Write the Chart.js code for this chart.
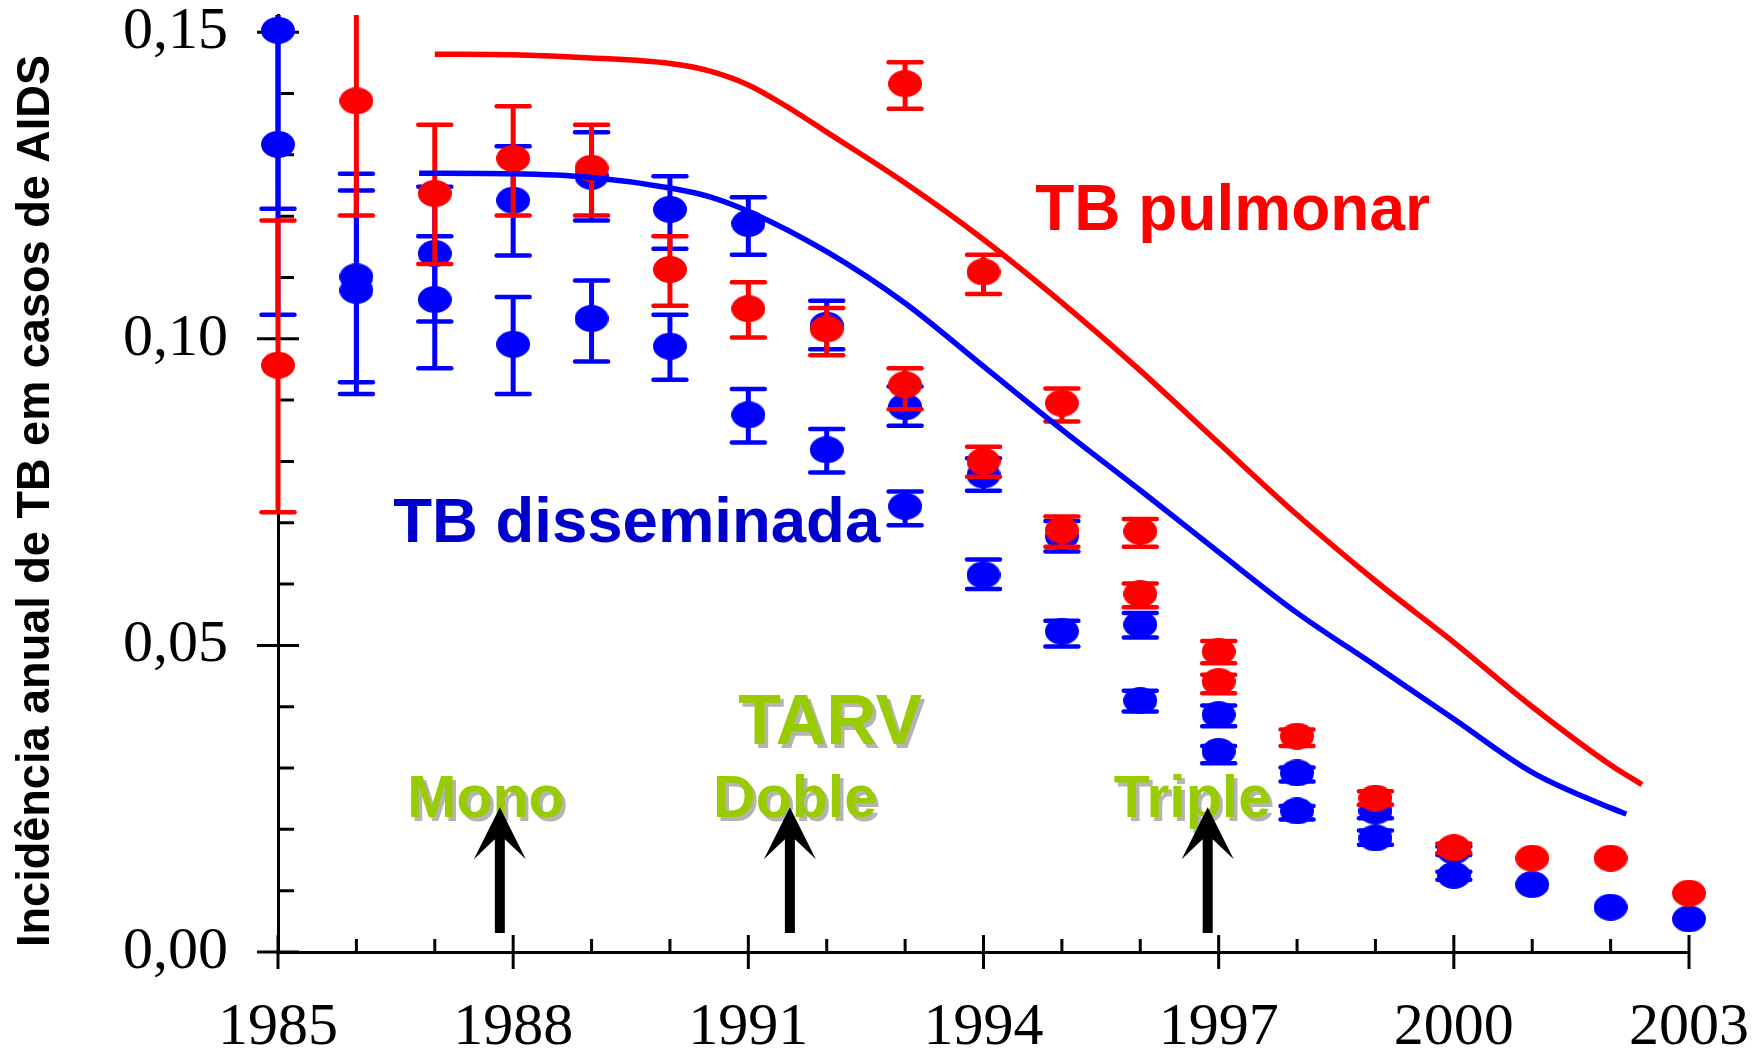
<!DOCTYPE html>
<html>
<head>
<meta charset="utf-8">
<script src="https://cdn.jsdelivr.net/npm/chart.js@4.4.1/dist/chart.umd.min.js"></script>
<style>
  html, body { margin: 0; padding: 0; background: #fff; }
</style>
</head>
<body>
<canvas id="chart" width="1762" height="1049"></canvas>
<script>
// years on the x axis
const years = [1985, 1986, 1987, 1988, 1989, 1990, 1991, 1992, 1993, 1994, 1995, 1996, 1997, 1998, 1999, 2000, 2001, 2002, 2003];

// TB pulmonar (red) - two groups of points with error bars
const redA     = [0.0957, 0.1388, 0.1237, 0.1294, 0.1278, 0.1113, 0.1049, 0.1016, 0.1416, 0.1109, 0.0895, 0.0686, 0.0490, 0.0352, 0.0251, 0.0170, 0.0153, 0.0153, 0.0096];
const redALow  = [0.0717, 0.1201, 0.1122, 0.1201, 0.1201, 0.1054, 0.1002, 0.0973, 0.1375, 0.1073, 0.0865, 0.0661, 0.0471, 0.0336, 0.0240, 0.0162, null, null, null];
const redAHigh = [0.1193, 0.1575, 0.1349, 0.1379, 0.1349, 0.1167, 0.1092, 0.1050, 0.1451, 0.1137, 0.0919, 0.0706, 0.0507, 0.0363, 0.0262, 0.0177, null, null, null];
const redB     = [null, null, null, null, null, null, null, null, 0.0925, 0.0800, 0.0688, 0.0584, 0.0441, null, null, null, null, null, null];
const redBLow  = [null, null, null, null, null, null, null, null, 0.0885, 0.0775, 0.0661, 0.0562, 0.0422, null, null, null, null, null, null];
const redBHigh = [null, null, null, null, null, null, null, null, 0.0952, 0.0824, 0.0710, 0.0601, 0.0452, null, null, null, null, null, null];

// TB disseminada (blue)
const blueA     = [0.1503, 0.1101, 0.1139, 0.1226, 0.1265, 0.1211, 0.1188, 0.1022, 0.0889, 0.0778, 0.0678, 0.0534, 0.0387, 0.0292, 0.0230, 0.0165, 0.0110, 0.0073, 0.0054];
const blueALow  = [0.1212, 0.0929, 0.1028, 0.1136, 0.1193, 0.1147, 0.1137, 0.0983, 0.0858, 0.0752, 0.0653, 0.0513, 0.0368, 0.0278, 0.0218, 0.0158, null, null, null];
const blueAHigh = [0.1790, 0.1269, 0.1248, 0.1314, 0.1337, 0.1265, 0.1231, 0.1062, 0.0922, 0.0805, 0.0703, 0.0553, 0.0402, 0.0301, 0.0240, 0.0172, null, null, null];
const blueB     = [0.1317, 0.1079, 0.1064, 0.0991, 0.1033, 0.0988, 0.0876, 0.0819, 0.0727, 0.0615, 0.0523, 0.0410, 0.0327, 0.0230, 0.0186, 0.0125, null, null, null];
const blueBLow  = [0.1039, 0.0910, 0.0952, 0.0910, 0.0963, 0.0933, 0.0831, 0.0782, 0.0696, 0.0592, 0.0498, 0.0392, 0.0308, 0.0216, 0.0175, 0.0118, null, null, null];
const blueBHigh = [0.1595, 0.1242, 0.1167, 0.1068, 0.1095, 0.1039, 0.0918, 0.0853, 0.0751, 0.0640, 0.0540, 0.0426, 0.0336, 0.0238, 0.0198, 0.0131, null, null, null];

// fitted curves
const redCurveX  = [1987, 1988, 1989, 1990, 1990.5, 1991, 1991.5, 1992, 1993, 1994, 1995, 1996, 1997, 1998, 1999, 2000, 2001, 2002, 2002.4];
const redCurveY  = [0.1464, 0.1463, 0.1458, 0.1449, 0.1437, 0.1414, 0.1378, 0.1337, 0.1254, 0.1162, 0.1059, 0.0948, 0.0830, 0.0713, 0.0605, 0.0505, 0.0400, 0.0305, 0.0273];
const blueCurveX = [1986.8, 1988, 1989, 1990, 1990.5, 1991, 1992, 1993, 1994, 1995, 1996, 1997, 1998, 1999, 2000, 2001, 2002, 2002.2];
const blueCurveY = [0.1270, 0.1269, 0.1263, 0.1246, 0.1232, 0.1208, 0.1142, 0.1058, 0.0955, 0.0852, 0.0753, 0.0652, 0.0553, 0.0467, 0.0380, 0.0293, 0.0235, 0.0225];

// axis ticks
const xMajorTicks = [1985, 1988, 1991, 1994, 1997, 2000, 2003];
const xMinorTicks = [1986, 1987, 1989, 1990, 1992, 1993, 1995, 1996, 1998, 1999, 2001, 2002];
const yMajorTicks = [0, 0.05, 0.10, 0.15];
const yMinorTicks = [0.01, 0.02, 0.03, 0.04, 0.06, 0.07, 0.08, 0.09, 0.11, 0.12, 0.13, 0.14];

// TARV start years (arrows)
const arrowYears = [1987.83, 1991.53, 1996.86];

const RED = '#ff0000';
const BLUE = '#0000ff';
const GREEN = '#99cc00';

function points(vals, lows, highs) {
  const out = [];
  years.forEach((yr, i) => {
    if (vals[i] == null) return;
    out.push({x: yr, y: vals[i], lo: lows[i], hi: highs[i]});
  });
  return out;
}

function curve(xs, ys) {
  return xs.map((x, i) => ({x: x, y: ys[i]}));
}

function ellipseMarker(color) {
  const c = document.createElement('canvas');
  c.width = 34; c.height = 27;
  const g = c.getContext('2d');
  g.fillStyle = color;
  g.beginPath();
  g.ellipse(17, 13.5, 17, 13.5, 0, 0, Math.PI * 2);
  g.fill();
  return c;
}

const redDot = ellipseMarker(RED);
const blueDot = ellipseMarker(BLUE);

// error bars, drawn just before each point dataset
const errorBars = {
  id: 'errorBars',
  beforeDatasetDraw(chart, args) {
    const ds = chart.data.datasets[args.index];
    if (!ds.errorBars) return;
    const ctx = chart.ctx, a = chart.chartArea;
    const xs = chart.scales.x, ys = chart.scales.y;
    ctx.save();
    ctx.beginPath();
    ctx.rect(a.left - 40, a.top, a.right - a.left + 80, a.bottom - a.top);
    ctx.clip();
    ctx.strokeStyle = ds.errorColor;
    ds.data.forEach(p => {
      if (p.lo == null) return;
      const x = xs.getPixelForValue(p.x);
      const y1 = ys.getPixelForValue(p.lo);
      const y2 = ys.getPixelForValue(p.hi);
      ctx.lineWidth = 5;
      ctx.lineCap = 'butt';
      ctx.beginPath(); ctx.moveTo(x, y1); ctx.lineTo(x, y2); ctx.stroke();
      ctx.lineWidth = 4.5;
      ctx.lineCap = 'round';
      [y1, y2].forEach(yy => {
        ctx.beginPath(); ctx.moveTo(x - 16.5, yy); ctx.lineTo(x + 16.5, yy); ctx.stroke();
      });
    });
    ctx.restore();
  }
};

// tick marks crossing / inside the axes
const tickMarks = {
  id: 'tickMarks',
  beforeDatasetsDraw(chart) {
    const ctx = chart.ctx, a = chart.chartArea;
    const xs = chart.scales.x, ys = chart.scales.y;
    ctx.save();
    ctx.strokeStyle = '#000';
    ctx.lineWidth = 3;
    ctx.beginPath();
    yMajorTicks.forEach(v => { const y = ys.getPixelForValue(v); ctx.moveTo(a.left - 21, y); ctx.lineTo(a.left + 21, y); });
    yMinorTicks.forEach(v => { const y = ys.getPixelForValue(v); ctx.moveTo(a.left, y); ctx.lineTo(a.left + 16, y); });
    xMajorTicks.forEach(v => { const x = xs.getPixelForValue(v); ctx.moveTo(x, a.bottom - 17); ctx.lineTo(x, a.bottom + 17); });
    xMinorTicks.forEach(v => { const x = xs.getPixelForValue(v); ctx.moveTo(x, a.bottom - 13); ctx.lineTo(x, a.bottom); });
    ctx.stroke();
    ctx.restore();
  }
};

// text labels and arrows
const labels = [
  {text: 'TB pulmonar', x: 1994.66, y: 0.1178, color: RED, size: 64, shadow: false},
  {text: 'TB disseminada', x: 1986.47, y: 0.0668, color: '#0000cc', size: 63.5, shadow: false},
  {text: 'TARV', x: 1990.87, y: 0.0339, color: GREEN, size: 70, shadow: true},
  {text: 'Mono', x: 1986.65, y: 0.0220, color: GREEN, size: 59, shadow: true},
  {text: 'Doble', x: 1990.55, y: 0.0220, color: GREEN, size: 59, shadow: true},
  {text: 'Triple', x: 1995.66, y: 0.0220, color: GREEN, size: 59, shadow: true}
];

const annotations = {
  id: 'annotations',
  afterDatasetsDraw(chart) {
    const ctx = chart.ctx;
    const xs = chart.scales.x, ys = chart.scales.y;
    ctx.save();
    ctx.textAlign = 'left';
    ctx.textBaseline = 'alphabetic';
    labels.forEach(l => {
      const x = xs.getPixelForValue(l.x), y = ys.getPixelForValue(l.y);
      ctx.font = 'bold ' + l.size + 'px "Liberation Sans", Arial, sans-serif';
      if (l.shadow) {
        ctx.fillStyle = '#b4b4b4';
        ctx.fillText(l.text, x + 3.5, y + 3.5);
      }
      ctx.fillStyle = l.color;
      ctx.fillText(l.text, x, y);
    });
    // arrows
    ctx.fillStyle = '#000';
    arrowYears.forEach(yr => {
      const x = xs.getPixelForValue(yr);
      const tip = ys.getPixelForValue(0.0236);
      const base = ys.getPixelForValue(0.0031);
      ctx.beginPath();
      ctx.moveTo(x, tip);
      ctx.lineTo(x + 26, tip + 52);
      ctx.lineTo(x + 5, tip + 32);
      ctx.lineTo(x + 5, base);
      ctx.lineTo(x - 5, base);
      ctx.lineTo(x - 5, tip + 32);
      ctx.lineTo(x - 26, tip + 52);
      ctx.closePath();
      ctx.fill();
    });
    ctx.restore();
  }
};

// rotated y axis title
const yTitle = {
  id: 'yTitle',
  afterDraw(chart) {
    const ctx = chart.ctx;
    const text = 'Incidência anual de TB em casos de AIDS';
    ctx.save();
    ctx.font = 'bold 46px "Liberation Sans", Arial, sans-serif';
    const w = ctx.measureText(text).width;
    ctx.translate(49, 501);
    ctx.rotate(-Math.PI / 2);
    ctx.scale(892 / w, 1);
    ctx.textAlign = 'center';
    ctx.textBaseline = 'alphabetic';
    ctx.fillStyle = '#000';
    ctx.fillText(text, 0, 0);
    ctx.restore();
  }
};

const tickFont = {family: '"Liberation Serif", "Times New Roman", serif', size: 60};

new Chart(document.getElementById('chart').getContext('2d'), {
  type: 'scatter',
  data: {
    datasets: [
      {label: 'TB pulmonar (curva)', data: curve(redCurveX, redCurveY), showLine: true, borderColor: RED, borderWidth: 5.5, pointRadius: 0, cubicInterpolationMode: 'monotone', order: 1, clip: false},
      {label: 'TB disseminada (curva)', data: curve(blueCurveX, blueCurveY), showLine: true, borderColor: BLUE, borderWidth: 5.5, pointRadius: 0, cubicInterpolationMode: 'monotone', order: 2, clip: false},
      {label: 'TB pulmonar A', data: points(redA, redALow, redAHigh), pointStyle: redDot, pointRadius: 14, backgroundColor: RED, errorBars: true, errorColor: RED, order: 3, clip: false},
      {label: 'TB pulmonar B', data: points(redB, redBLow, redBHigh), pointStyle: redDot, pointRadius: 14, backgroundColor: RED, errorBars: true, errorColor: RED, order: 4, clip: false},
      {label: 'TB disseminada A', data: points(blueA, blueALow, blueAHigh), pointStyle: blueDot, pointRadius: 14, backgroundColor: BLUE, errorBars: true, errorColor: BLUE, order: 5, clip: false},
      {label: 'TB disseminada B', data: points(blueB, blueBLow, blueBHigh), pointStyle: blueDot, pointRadius: 14, backgroundColor: BLUE, errorBars: true, errorColor: BLUE, order: 6, clip: false}
    ]
  },
  options: {
    responsive: false,
    animation: false,
    devicePixelRatio: 1,
    layout: {padding: {top: 13, right: 73, left: 0, bottom: 0}},
    plugins: {legend: {display: false}, tooltip: {enabled: false}},
    scales: {
      x: {
        type: 'linear', min: 1985, max: 2003,
        grid: {display: false, drawTicks: false},
        border: {display: true, color: '#000', width: 3},
        afterBuildTicks: s => { s.ticks = xMajorTicks.map(v => ({value: v})); },
        afterFit: s => { s.height = 97; s.paddingLeft = 0; s.paddingRight = 0; },
        ticks: {color: '#000', font: tickFont, padding: 40, maxRotation: 0, autoSkip: false, callback: v => String(v)}
      },
      y: {
        min: 0, max: 0.1528,
        grid: {display: false, drawTicks: false},
        border: {display: true, color: '#000', width: 3},
        afterBuildTicks: s => { s.ticks = yMajorTicks.map(v => ({value: v})); },
        afterFit: s => { s.width = 278; s.paddingTop = 0; s.paddingBottom = 0; },
        ticks: {color: '#000', font: tickFont, padding: 50, callback: v => v.toFixed(2).replace('.', ',')}
      }
    }
  },
  plugins: [errorBars, tickMarks, annotations, yTitle]
});
</script>
</body>
</html>
